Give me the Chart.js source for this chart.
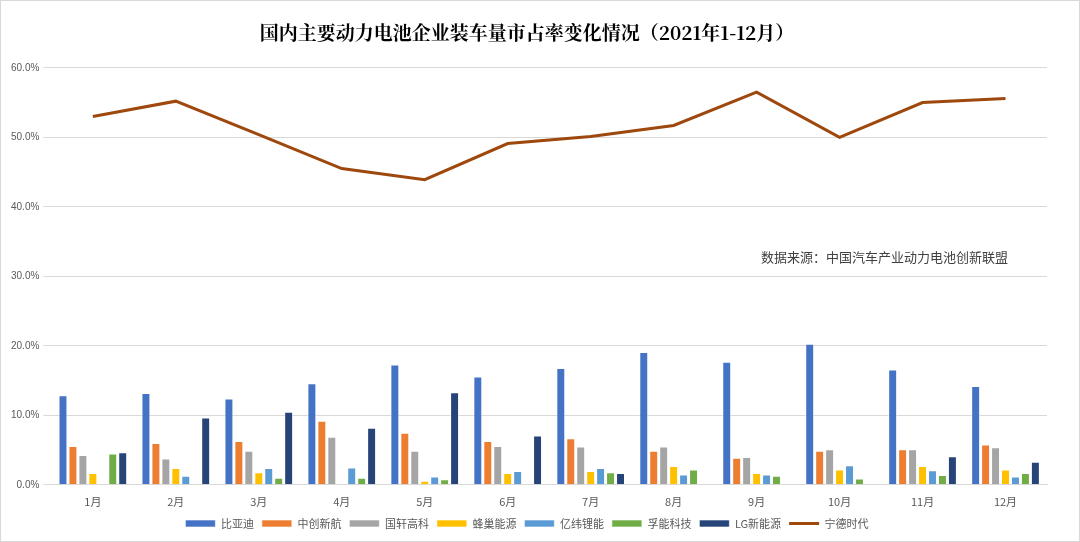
<!DOCTYPE html>
<html><head><meta charset="utf-8">
<script src="https://cdn.jsdelivr.net/npm/chart.js@4/dist/chart.umd.min.js"></script>
<style>
body{margin:0;background:#fff;}
#wrap{width:1078px;height:540px;border:1px solid #d9d9d9;}
</style></head>
<body><div id="wrap"><canvas id="c" width="1078" height="540"></canvas></div>
<script>
const months = ["1月","2月","3月","4月","5月","6月","7月","8月","9月","10月","11月","12月"];
const byd   = [12.9,13.2,12.4,14.6,17.3,15.6,16.8,19.1,17.7,20.3,16.6,14.2];
const calb  = [5.6,6.0,6.3,9.2,7.5,6.3,6.7,4.9,3.9,4.9,5.1,5.8];
const gotion= [4.3,3.8,4.9,6.9,4.9,5.6,5.5,5.5,4.0,5.1,5.1,5.4];
const svolt = [1.7,2.4,1.8,0,0.6,1.7,2.0,2.7,1.7,2.2,2.7,2.2];
const eve   = [0,1.3,2.4,2.5,1.2,2.0,2.4,1.5,1.5,2.8,2.1,1.2];
const farasis=[4.5,0,1.0,1.0,0.8,0,1.8,2.2,1.3,0.9,1.4,1.7];
const lg    = [4.7,9.7,10.5,8.2,13.3,7.1,1.7,0,0,0,4.1,3.3];
const catl  = [53.0,55.2,50.4,45.5,43.9,49.1,50.1,51.7,56.5,50.0,55.0,55.6];

const bar = (label, data, color) => ({type:"bar", label, data, backgroundColor:color, borderColor:"rgba(255,255,255,0.6)", borderWidth:1, categoryPercentage:0.84, barPercentage:0.9, pointStyle:"rect", order:2});

const sourceText = {
    id:"sourceText",
    afterDraw(chart){
        const ctx = chart.ctx;
        ctx.save();
        ctx.font = "13px 'Noto Sans CJK SC'";
        ctx.fillStyle = "#404040";
        ctx.fillText("数据来源：中国汽车产业动力电池创新联盟", 760, 256);
        ctx.restore();
    }
};

new Chart(document.getElementById("c"), {
    data: {
        labels: months,
        datasets: [
            bar("比亚迪", byd, "#4472c4"),
            bar("中创新航", calb, "#ed7d31"),
            bar("国轩高科", gotion, "#a5a5a5"),
            bar("蜂巢能源", svolt, "#ffc000"),
            bar("亿纬锂能", eve, "#5b9bd5"),
            bar("孚能科技", farasis, "#70ad47"),
            bar("LG新能源", lg, "#264478"),
            {type:"line", label:"宁德时代", data:catl, borderColor:"#9e480e", backgroundColor:"#9e480e", borderWidth:3, pointRadius:0, pointStyle:"line", tension:0, order:1},
        ],
    },
    options: {
        responsive:false, animation:false,
        layout:{padding:{left:6,right:32,top:0,bottom:2}},
        plugins:{
            title:{display:true, text:"国内主要动力电池企业装车量市占率变化情况（2021年1-12月）", color:"#000", font:{family:"'Noto Serif CJK SC','Noto Sans CJK SC'", size:19, weight:"bold"}, padding:{top:20,bottom:24}},
            legend:{position:"bottom", labels:{usePointStyle:true, pointStyleWidth:30, color:"#595959", font:{family:"'Noto Sans CJK SC'", size:11}, boxHeight:7, padding:8, sort:(a,b) => a.datasetIndex - b.datasetIndex}},
            tooltip:{enabled:false},
        },
        scales:{
            x:{grid:{display:false}, border:{color:"#d9d9d9"}, ticks:{color:"#595959", padding:2, font:{family:"'Noto Sans CJK SC'", size:11}}},
            y:{min:0, max:60, ticks:{stepSize:10, color:"#595959", padding:4, font:{size:10}, callback:v => v.toFixed(1) + "%"}, grid:{color:"#d9d9d9"}, border:{display:false}},
        },
    },
    plugins:[sourceText],
});
</script></body></html>
